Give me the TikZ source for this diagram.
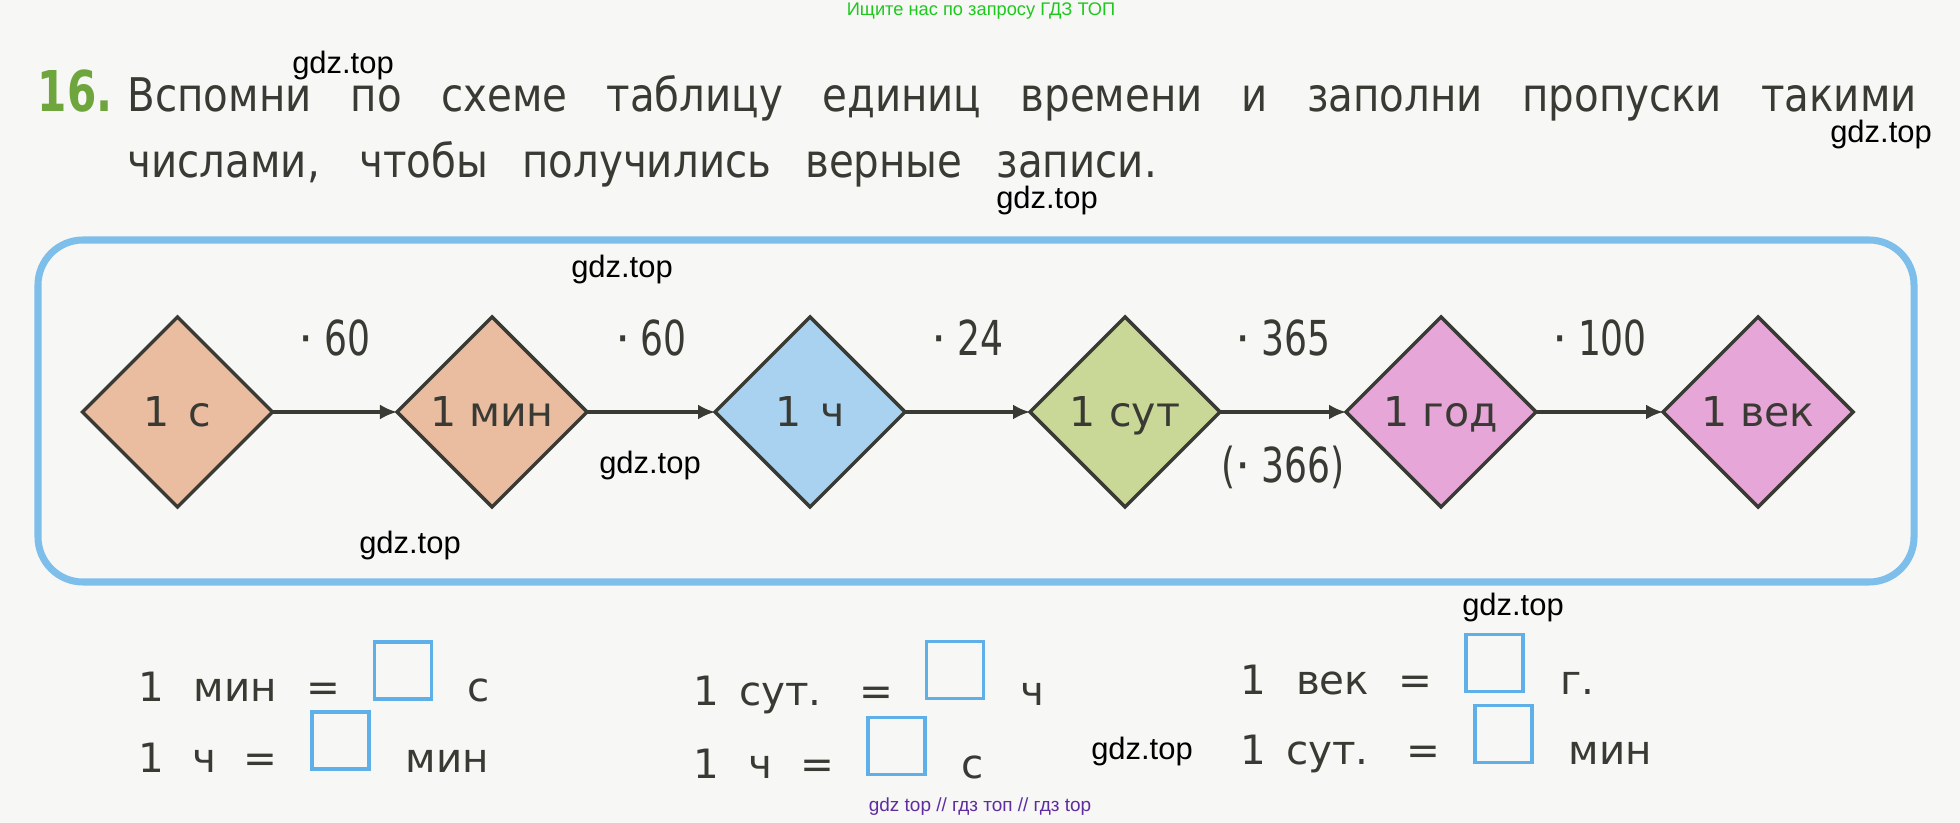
\documentclass[tikz,border=0pt]{standalone}
\usepackage{fontspec}
\setmainfont{DejaVu Sans}
\newfontfamily\narrowfont[FakeStretch=0.75]{DejaVu Sans}
\newfontfamily\titlefont[FakeStretch=0.87]{DejaVu Sans}
\newfontfamily\wmfont{Liberation Sans}
\usetikzlibrary{
    shapes.geometric,
    arrows.meta,
    positioning
}
\definecolor{inkgray}{RGB}{58, 58, 52}
\definecolor{secpeach}{RGB}{234, 188, 160}
\definecolor{hourblue}{RGB}{168, 210, 240}
\definecolor{daygreen}{RGB}{201, 216, 150}
\definecolor{yearpink}{RGB}{230, 166, 215}
\definecolor{frameblue}{RGB}{125, 190, 235}
\definecolor{boxblue}{RGB}{95, 175, 232}
\definecolor{numgreen}{RGB}{110, 165, 60}
\definecolor{paper}{RGB}{247, 247, 245}
\definecolor{wmgreen}{RGB}{30, 200, 30}
\definecolor{wmpurple}{RGB}{95, 45, 160}
\newcommand{\fsz}[1]{\fontsize{#1}{1.2\dimexpr#1pt\relax}\selectfont}
\newcommand{\md}{{\rmfamily·}\hspace{0.22em}}

\begin{document}
\begin{tikzpicture}[
        unitbox/.style={shape=diamond, draw=inkgray, line width=1pt, aspect=1, minimum width=1.9cm, minimum height=1.9cm, inner sep=0pt, outer sep=0pt, text depth=0pt, text=inkgray, font=\fsz{11.7}},
        arrow/.style={-{Latex[length=0.17cm, width=0.15cm]}, line width=0.9pt, draw=inkgray},
        mult/.style={text=inkgray, font=\narrowfont\fsz{13.7}, inner sep=0pt},
        eqtext/.style={anchor=base west, inner sep=0pt, text=inkgray, font=\fsz{11.5}},
        ansbox/.style={draw=boxblue, line width=1.1pt, minimum size=0.57cm, inner sep=0pt},
        wm/.style={font=\wmfont\fsz{8.8}, inner sep=0pt}
    ]
        \useasboundingbox (0, 0) rectangle (19.6, 8.23);
        \fill[paper] (0, 0) rectangle (19.6, 8.23);

        % Task text
        \node[anchor=base west, inner sep=0pt, text=numgreen, font=\narrowfont\bfseries\fsz{16}] (num) at (0.37, 7.11) {16.};
        \node[anchor=base west, inner sep=0pt, text=inkgray, font=\titlefont\fsz{13.2}] (line1) at (1.27, 7.11)
            {\makebox[17.89cm][s]{Вспомни по схеме таблицу единиц времени и заполни пропуски такими}};
        \node[anchor=base west, inner sep=0pt, text=inkgray, font=\titlefont\fsz{13.2}] (line2) at (1.27, 6.45)
            {\makebox[10.29cm][s]{числами, чтобы получились верные записи.}};

        % Frame
        \draw[frameblue, line width=2pt, rounded corners=0.45cm] (0.38, 2.41) rectangle (19.14, 5.83);

        % Units of time
        \node[unitbox, fill=secpeach] (sec) at (1.775, 4.11) {1\hspace{0.45em}с};
        \node[unitbox, fill=secpeach] (min) at (4.92, 4.11) {1 мин};
        \node[unitbox, fill=hourblue] (hour) at (8.10, 4.11) {1\hspace{0.45em}ч};
        \node[unitbox, fill=daygreen] (day) at (11.25, 4.11) {1 сут};
        \node[unitbox, fill=yearpink] (year) at (14.41, 4.11) {1 год};
        \node[unitbox, fill=yearpink] (cent) at (17.58, 4.11) {1 век};

        % Arrows
        \draw[arrow] (sec) -- (min) node[mult, midway, yshift=0.74cm] (m1) {\md 60};
        \draw[arrow] (min) -- (hour) node[mult, midway, yshift=0.74cm] (m2) {\md 60};
        \draw[arrow] (hour) -- (day) node[mult, midway, yshift=0.74cm] (m3) {\md 24};
        \draw[arrow] (day) -- (year) node[mult, midway, yshift=0.74cm] (m4) {\md 365}
            node[mult, midway, yshift=-0.55cm] (m4b) {(\md 366)};
        \draw[arrow] (year) -- (cent) node[mult, midway, yshift=0.74cm] (m5) {\md 100};

        % Fill in the gaps
        \node[eqtext] (e1) at (1.38, 1.21) {\makebox[2.02cm][s]{1 мин =}};
        \node[ansbox] (b1) at (4.03, 1.525) {};
        \node[eqtext] (u1) at (4.67, 1.21) {с};

        \node[eqtext] (e2) at (1.38, 0.50) {\makebox[1.39cm][s]{1 ч =}};
        \node[ansbox] (b2) at (3.405, 0.825) {};
        \node[eqtext] (u2) at (4.05, 0.50) {мин};

        \node[eqtext] (e3) at (6.93, 1.17) {\makebox[2.00cm][s]{1 сут. =}};
        \node[ansbox] (b3) at (9.55, 1.53) {};
        \node[eqtext] (u3) at (10.20, 1.17) {ч};

        \node[eqtext] (e4) at (6.93, 0.44) {\makebox[1.41cm][s]{1 ч =}};
        \node[ansbox] (b4) at (8.965, 0.77) {};
        \node[eqtext] (u4) at (9.61, 0.44) {с};

        \node[eqtext] (e5) at (12.40, 1.28) {\makebox[1.92cm][s]{1 век =}};
        \node[ansbox] (b5) at (14.945, 1.60) {};
        \node[eqtext] (u5) at (15.60, 1.28) {г.};

        \node[eqtext] (e6) at (12.40, 0.58) {\makebox[2.00cm][s]{1 сут. =}};
        \node[ansbox] (b6) at (15.035, 0.89) {};
        \node[eqtext] (u6) at (15.68, 0.58) {мин};

        % Watermarks
        \node[font=\wmfont\fsz{5.2}, text=wmgreen, inner sep=0pt] (wtop) at (9.81, 8.12) {Ищите нас по запросу ГДЗ ТОП};
        \node[font=\wmfont\fsz{5.4}, text=wmpurple, inner sep=0pt] (wbot) at (9.80, 0.16) {gdz top // гдз топ // гдз top};
        \node[wm] (w1) at (3.43, 7.57) {gdz.top};
        \node[wm] (w2) at (18.81, 6.88) {gdz.top};
        \node[wm] (w3) at (10.47, 6.22) {gdz.top};
        \node[wm] (w4) at (6.22, 5.53) {gdz.top};
        \node[wm] (w5) at (6.50, 3.57) {gdz.top};
        \node[wm] (w6) at (4.10, 2.77) {gdz.top};
        \node[wm] (w7) at (15.13, 2.15) {gdz.top};
        \node[wm] (w8) at (11.42, 0.71) {gdz.top};
    \end{tikzpicture}
\end{document}
